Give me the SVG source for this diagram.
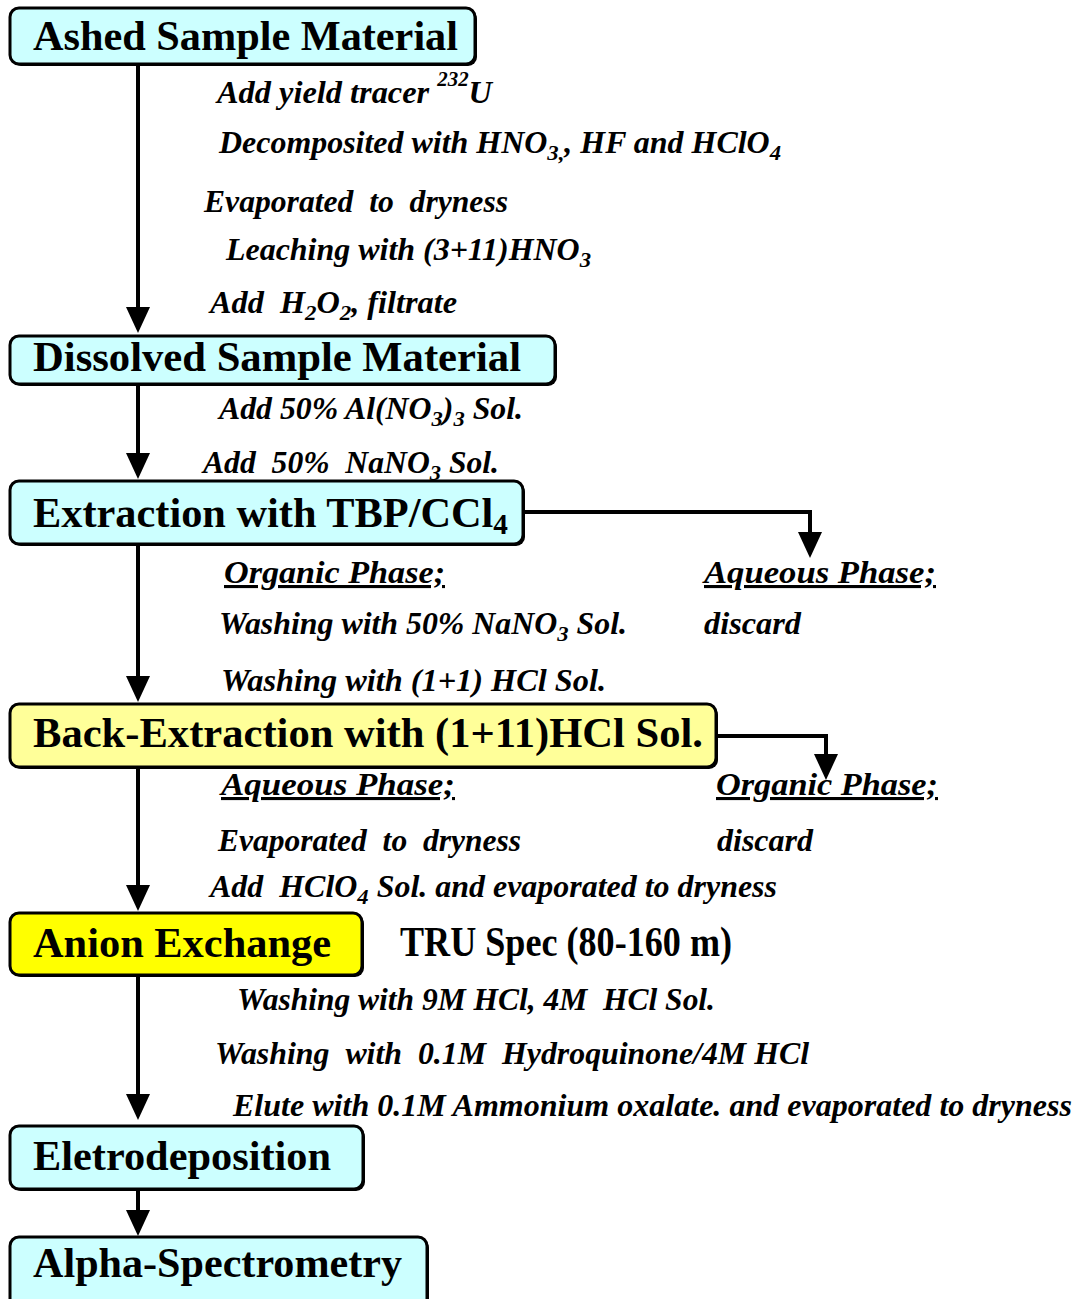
<svg xmlns="http://www.w3.org/2000/svg" width="1079" height="1299" viewBox="0 0 1079 1299">
<style>
.box{stroke:#000;stroke-width:3}
.shadow{fill:#000}
.cyan{fill:#CCFFFF}
.lyel{fill:#FFFF99}
.yel{fill:#FFFF00}
.title{font-family:"Liberation Serif","Times New Roman",serif;font-weight:bold;font-size:42px;fill:#000}
.note{font-family:"Liberation Serif","Times New Roman",serif;font-weight:bold;font-style:italic;font-size:31px;fill:#000}
.ul{text-decoration:underline}
.conn{fill:none;stroke:#000;stroke-width:4}
</style>
<defs>
<marker id="ah" viewBox="0 0 26 24" refX="20" refY="12" markerWidth="26" markerHeight="24" markerUnits="userSpaceOnUse" orient="auto">
<path d="M0,0 L26,12 L0,24 z" fill="#000"/>
</marker>
</defs>
<rect width="1079" height="1299" fill="#fff"/>

<g id="connectors">
<path class="conn" d="M138,64 V327" marker-end="url(#ah)"/>
<path class="conn" d="M138,385 V473" marker-end="url(#ah)"/>
<path class="conn" d="M138,545 V696" marker-end="url(#ah)"/>
<path class="conn" d="M138,768 V905" marker-end="url(#ah)"/>
<path class="conn" d="M138,968 V1114" marker-end="url(#ah)"/>
<path class="conn" d="M138,1190 V1230" marker-end="url(#ah)"/>
<path class="conn" d="M524,512 H810 V552" marker-end="url(#ah)"/>
<path class="conn" d="M718,736 H826 V774" marker-end="url(#ah)"/>
</g>

<g id="n1">
<rect class="shadow" x="12" y="10" width="465" height="56" rx="9"/>
<rect class="box cyan" x="10" y="8" width="465" height="56" rx="9"/>
<text class="title" x="33" y="50" textLength="425" lengthAdjust="spacingAndGlyphs">Ashed Sample Material</text>
</g>
<g id="n2">
<rect class="shadow" x="12" y="338" width="545" height="48" rx="9"/>
<rect class="box cyan" x="10" y="336" width="545" height="48" rx="9"/>
<text class="title" x="33" y="371" textLength="488" lengthAdjust="spacingAndGlyphs">Dissolved Sample Material</text>
</g>
<g id="n3">
<rect class="shadow" x="12" y="483" width="513" height="63" rx="9"/>
<rect class="box cyan" x="10" y="481" width="513" height="63" rx="9"/>
<text class="title" x="33" y="527" textLength="475" lengthAdjust="spacingAndGlyphs">Extraction with TBP/CCl<tspan font-size="29" dy="7">4</tspan></text>
</g>
<g id="n4">
<rect class="shadow" x="12" y="706" width="706" height="63" rx="9"/>
<rect class="box lyel" x="10" y="704" width="706" height="63" rx="9"/>
<text class="title" x="33" y="747" font-size="44" textLength="670" lengthAdjust="spacingAndGlyphs">Back-Extraction with (1+11)HCl Sol.</text>
</g>
<g id="n5">
<rect class="shadow" x="12" y="915" width="352" height="62" rx="9"/>
<rect class="box yel" x="10" y="913" width="352" height="62" rx="9"/>
<text class="title" x="33" y="957" font-size="44" textLength="298" lengthAdjust="spacingAndGlyphs">Anion Exchange</text>
</g>
<g id="n6">
<rect class="shadow" x="12" y="1128" width="353" height="63" rx="9"/>
<rect class="box cyan" x="10" y="1126" width="353" height="63" rx="9"/>
<text class="title" x="33" y="1170" textLength="298" lengthAdjust="spacingAndGlyphs">Eletrodeposition</text>
</g>
<g id="n7">
<rect class="shadow" x="12" y="1239" width="417" height="80" rx="9"/>
<rect class="box cyan" x="10" y="1237" width="417" height="80" rx="9"/>
<text class="title" x="33" y="1277" textLength="369" lengthAdjust="spacingAndGlyphs">Alpha-Spectrometry</text>
</g>

<g id="notes">
<text class="note" x="217" y="103" textLength="275" lengthAdjust="spacingAndGlyphs" xml:space="preserve">Add yield tracer <tspan font-size="20" dy="-17">232</tspan><tspan dy="17">U</tspan></text>
<text class="note" x="219" y="153" textLength="562" lengthAdjust="spacingAndGlyphs">Decomposited with HNO<tspan font-size="22" dy="7">3,</tspan><tspan dy="-7">, HF and HClO</tspan><tspan font-size="22" dy="7">4</tspan></text>
<text class="note" x="204" y="212" textLength="304" lengthAdjust="spacingAndGlyphs" xml:space="preserve">Evaporated  to  dryness</text>
<text class="note" x="226" y="260" textLength="365" lengthAdjust="spacingAndGlyphs">Leaching with (3+11)HNO<tspan font-size="22" dy="7">3</tspan></text>
<text class="note" x="210" y="313" textLength="247" lengthAdjust="spacingAndGlyphs" xml:space="preserve">Add  H<tspan font-size="22" dy="7">2</tspan><tspan dy="-7">O</tspan><tspan font-size="22" dy="7">2</tspan><tspan dy="-7">, filtrate</tspan></text>
<text class="note" x="219" y="419" textLength="304" lengthAdjust="spacingAndGlyphs">Add 50% Al(NO<tspan font-size="22" dy="7">3</tspan><tspan dy="-7">)</tspan><tspan font-size="22" dy="7">3</tspan><tspan dy="-7"> Sol.</tspan></text>
<text class="note" x="203" y="473" textLength="296" lengthAdjust="spacingAndGlyphs" xml:space="preserve">Add  50%  NaNO<tspan font-size="22" dy="7">3</tspan><tspan dy="-7"> Sol.</tspan></text>
<text class="note ul" x="224" y="583" textLength="221" lengthAdjust="spacingAndGlyphs">Organic Phase;</text>
<text class="note ul" x="704" y="583" textLength="232" lengthAdjust="spacingAndGlyphs">Aqueous Phase;</text>
<text class="note" x="219" y="634" textLength="408" lengthAdjust="spacingAndGlyphs">Washing with 50% NaNO<tspan font-size="22" dy="7">3</tspan><tspan dy="-7"> Sol.</tspan></text>
<text class="note" x="704" y="634" textLength="97" lengthAdjust="spacingAndGlyphs">discard</text>
<text class="note" x="221" y="691" textLength="385" lengthAdjust="spacingAndGlyphs">Washing with (1+1) HCl Sol.</text>
<text class="note ul" x="221" y="795" font-size="33" textLength="234" lengthAdjust="spacingAndGlyphs">Aqueous Phase;</text>
<text class="note ul" x="716" y="795" font-size="33" textLength="222" lengthAdjust="spacingAndGlyphs">Organic Phase;</text>
<text class="note" x="218" y="851" textLength="303" lengthAdjust="spacingAndGlyphs" xml:space="preserve">Evaporated  to  dryness</text>
<text class="note" x="717" y="851" textLength="96" lengthAdjust="spacingAndGlyphs">discard</text>
<text class="note" x="210" y="897" textLength="567" lengthAdjust="spacingAndGlyphs" xml:space="preserve">Add  HClO<tspan font-size="22" dy="7">4</tspan><tspan dy="-7"> Sol. and evaporated to dryness</tspan></text>
<text class="title" x="400" y="956" font-size="38" textLength="332" lengthAdjust="spacingAndGlyphs">TRU Spec (80-160 m)</text>
<text class="note" x="237" y="1010" font-size="32" textLength="478" lengthAdjust="spacingAndGlyphs" xml:space="preserve">Washing with 9M HCl, 4M  HCl Sol.</text>
<text class="note" x="215" y="1064" font-size="32" textLength="594" lengthAdjust="spacingAndGlyphs" xml:space="preserve">Washing  with  0.1M  Hydroquinone/4M HCl</text>
<text class="note" x="233" y="1116" font-size="32" textLength="839" lengthAdjust="spacingAndGlyphs">Elute with 0.1M Ammonium oxalate. and evaporated to dryness</text>
</g>
</svg>
